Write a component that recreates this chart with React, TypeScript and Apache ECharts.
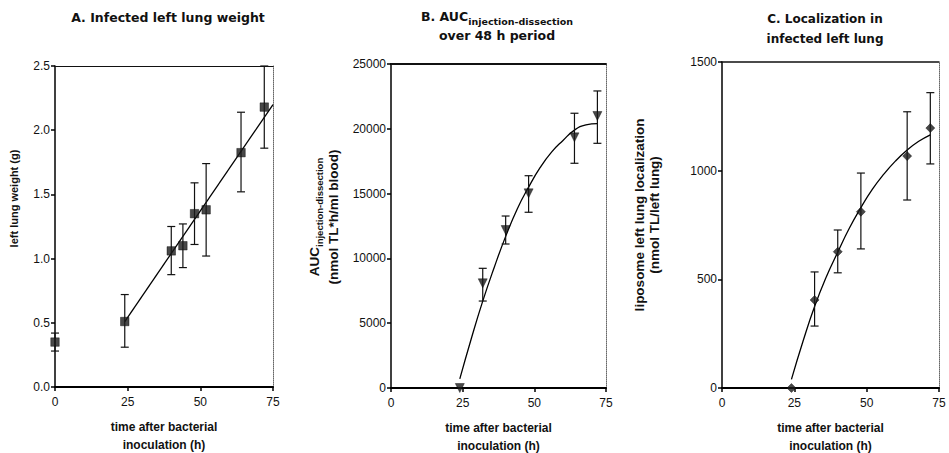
import React, { useEffect, useRef } from "react";
import * as echarts from "echarts";

// Panel A: infected left lung weight
const hoursA = [0, 24, 40, 44, 48, 52, 64, 72];
const weightA = [0.35, 0.51, 1.06, 1.1, 1.35, 1.38, 1.825, 2.18];
const weightLowA = [0.28, 0.31, 0.875, 0.93, 1.11, 1.02, 1.52, 1.86];
const weightHighA = [0.42, 0.72, 1.25, 1.27, 1.59, 1.74, 2.14, 2.5];
const fitXA = [24, 75];
const fitYA = [0.51, 2.2];

// Panel B: AUC injection-dissection
const hoursB = [24, 32, 40, 48, 64, 72];
const aucB = [0, 8080, 12190, 15020, 19340, 20990];
const aucLowB = [0, 6710, 11110, 13560, 17340, 18880];
const aucHighB = [0, 9235, 13270, 16380, 21200, 22920];
const fitXB = [24, 28, 32, 36, 40, 44, 48, 52, 56, 60, 64, 68, 72];
const fitYB = [700, 3800, 6700, 9300, 11700, 13800, 15500, 17000, 18200, 19100, 19900, 20300, 20400];

// Panel C: localization in infected left lung
const hoursC = [24, 32, 40, 48, 64, 72];
const locC = [0, 405, 627, 811, 1067, 1196];
const locLowC = [0, 285, 530, 640, 865, 1031];
const locHighC = [0, 534, 727, 989, 1271, 1359];
const fitXC = [24, 28, 32, 36, 40, 44, 48, 52, 56, 60, 64, 68, 72];
const fitYC = [40, 215, 375, 510, 625, 735, 830, 915, 985, 1045, 1095, 1135, 1165];

const xTicks = { min: 0, max: 75, interval: 25 };
const yTicksA = { min: 0, max: 2.5, interval: 0.5 };
const yTicksB = { min: 0, max: 25000, interval: 5000 };
const yTicksC = { min: 0, max: 1500, interval: 500 };

const FONT = "'Liberation Sans', Arial, sans-serif";
const TFONT = "'DejaVu Sans', sans-serif";

const zip = (xs: number[], ys: number[]) => xs.map((x, i) => [x, ys[i]]);
const zip3 = (xs: number[], a: number[], b: number[]) =>
  xs.map((x, i) => [x, a[i], b[i]]).filter((d) => d[1] !== d[2]);

const errRender = (params: any, api: any) => {
  const x = api.value(0);
  const lo = api.value(1);
  const hi = api.value(2);
  const pLo = api.coord([x, lo]);
  const pHi = api.coord([x, hi]);
  const w = 4;
  const st = { stroke: "#111", lineWidth: 1.2 };
  return {
    type: "group",
    children: [
      { type: "line", shape: { x1: pLo[0], y1: pLo[1], x2: pHi[0], y2: pHi[1] }, style: st },
      { type: "line", shape: { x1: pLo[0] - w, y1: pLo[1], x2: pLo[0] + w, y2: pLo[1] }, style: st },
      { type: "line", shape: { x1: pHi[0] - w, y1: pHi[1], x2: pHi[0] + w, y2: pHi[1] }, style: st },
    ],
  };
};

export default function App() {
  const ref = useRef<HTMLDivElement>(null);
  useEffect(() => {
    if (!ref.current) return;
    const chart = echarts.init(ref.current, null, { renderer: "svg" });

    const grids = [
      { left: 55, top: 66, width: 218, height: 321, outerBoundsMode: "none", containLabel: false },
      { left: 391, top: 64, width: 215, height: 324, outerBoundsMode: "none", containLabel: false },
      { left: 722, top: 62, width: 217, height: 326, outerBoundsMode: "none", containLabel: false },
    ];
    const yTicks = [yTicksA, yTicksB, yTicksC];
    const topSolid = [1.2, 2, 1.5];
    const xAxes: any[] = [];
    const yAxes: any[] = [];
    const yNames = [
      "left lung weight (g)",
      "{b|AUC}{s|injection-dissection}\n{b|(nmol TL*h/ml blood)}",
      "liposome left lung localization\n(nmol TL/left lung)",
    ];
    const yGaps = [34, 48, 60];
    const ySizes = [11, 13.5, 13.5];
    const yLH = [14, 19, 15];
    const yPad = [56, 18, 20];
    grids.forEach((g, i) => {
      xAxes.push({
        gridIndex: i,
        type: "value",
        ...xTicks,
        position: "bottom",
        axisLine: { show: true, onZero: false, lineStyle: { color: "#000", width: 2 } },
        axisTick: { show: true, length: 4, lineStyle: { color: "#000", width: 1.5 } },
        axisLabel: { fontSize: 12, color: "#111", fontFamily: FONT, margin: 9 },
        splitLine: { show: false },
        name: "time after bacterial\ninoculation (h)",
        nameLocation: "middle",
        nameGap: 31,
        nameTextStyle: { fontSize: 12, fontWeight: "bold", color: "#111", fontFamily: FONT, lineHeight: 18 },
      });
      xAxes.push({
        gridIndex: i,
        type: "value",
        ...xTicks,
        position: "top",
        axisLine: { show: true, onZero: false, lineStyle: { color: "#111", width: topSolid[i] } },
        axisTick: { show: false },
        axisLabel: { show: false },
        splitLine: { show: false },
      });
      yAxes.push({
        gridIndex: i,
        type: "value",
        ...yTicks[i],
        position: "left",
        axisLine: { show: true, onZero: false, lineStyle: { color: "#000", width: 1.5 } },
        axisTick: { show: true, length: 4, lineStyle: { color: "#000", width: 1.5 } },
        axisLabel: {
          fontSize: 12,
          color: "#111",
          fontFamily: FONT,
          margin: 5,
          formatter: i === 0 ? (v: number) => v.toFixed(1) : (v: number) => String(v),
        },
        splitLine: { show: false },
        name: yNames[i],
        nameLocation: "middle",
        nameGap: yGaps[i],
        nameTextStyle: {
          fontSize: ySizes[i],
          fontWeight: "bold",
          color: "#111",
          fontFamily: FONT,
          lineHeight: yLH[i],
          padding: [0, 0, 0, yPad[i]],
          rich: {
            b: { fontSize: ySizes[i], fontWeight: "bold", color: "#111", fontFamily: FONT, lineHeight: yLH[i] },
            s: { fontSize: 9.5, fontWeight: "bold", color: "#111", fontFamily: FONT, verticalAlign: "bottom", padding: [5, 0, 0, 0] },
          },
        },
      });
      yAxes.push({
        gridIndex: i,
        type: "value",
        ...yTicks[i],
        position: "right",
        axisLine: { show: true, onZero: false, lineStyle: { color: "#666", width: 1, type: "dotted" } },
        axisTick: { show: false },
        axisLabel: { show: false },
        splitLine: { show: false },
      });
    });

    const markerStyle = { color: "#1a1a1a", borderColor: "#000", borderWidth: 0.5 };
    const lineStyle = { color: "#000", width: 1.3 };

    const panel = (
      i: number,
      xs: number[],
      ys: number[],
      lo: number[],
      hi: number[],
      fx: number[],
      fy: number[],
      symbol: string,
      size: number,
      rotate: number,
      smooth: boolean
    ) => [
      {
        type: "line",
        xAxisIndex: 2 * i,
        yAxisIndex: 2 * i,
        data: zip(fx, fy),
        showSymbol: false,
        symbol: "none",
        smooth,
        lineStyle,
        z: 2,
      },
      {
        type: "custom",
        xAxisIndex: 2 * i,
        yAxisIndex: 2 * i,
        data: zip3(xs, lo, hi),
        renderItem: errRender,
        encode: { x: 0, y: [1, 2] },
        clip: false,
        z: 3,
      },
      {
        type: "scatter",
        xAxisIndex: 2 * i,
        yAxisIndex: 2 * i,
        data: zip(xs, ys),
        symbol,
        symbolSize: size,
        symbolRotate: rotate,
        itemStyle: markerStyle,
        clip: false,
        z: 4,
      },
    ];

    const titleStyle = { fontSize: 12.5, fontWeight: "bold", color: "#111", fontFamily: TFONT };

    chart.setOption({
      animation: false,
      backgroundColor: "#fff",
      title: [
        {
          text: "A. Infected left lung weight",
          left: 163,
          top: 6,
          textAlign: "center",
          textStyle: titleStyle,
        },
        {
          text: "{b|B. AUC}{s|injection-dissection}\n{b|over 48 h period}",
          left: 492,
          top: 2,
          textAlign: "center",
          textStyle: {
            ...titleStyle,
            lineHeight: 19,
            rich: {
              b: { ...titleStyle, lineHeight: 19 },
              s: { fontSize: 9.5, fontWeight: "bold", color: "#111", fontFamily: TFONT, verticalAlign: "bottom", padding: [6, 0, 0, 0] },
            },
          },
        },
        {
          text: "C. Localization in\ninfected left lung",
          left: 820,
          top: 4,
          textAlign: "center",
          textStyle: { ...titleStyle, fontSize: 12, lineHeight: 20 },
        },
      ],
      grid: grids,
      xAxis: xAxes,
      yAxis: yAxes,
      series: [
        ...panel(0, hoursA, weightA, weightLowA, weightHighA, fitXA, fitYA, "rect", 8.5, 0, false),
        ...panel(1, hoursB, aucB, aucLowB, aucHighB, fitXB, fitYB, "triangle", 9, 180, true),
        ...panel(2, hoursC, locC, locLowC, locHighC, fitXC, fitYC, "diamond", 9, 0, true),
      ],
    });
    return () => chart.dispose();
  }, []);
  return (
    <div
      ref={ref}
      style={{ position: "fixed", left: 0, top: 0, width: 949, height: 453, background: "#fff" }}
    />
  );
}
